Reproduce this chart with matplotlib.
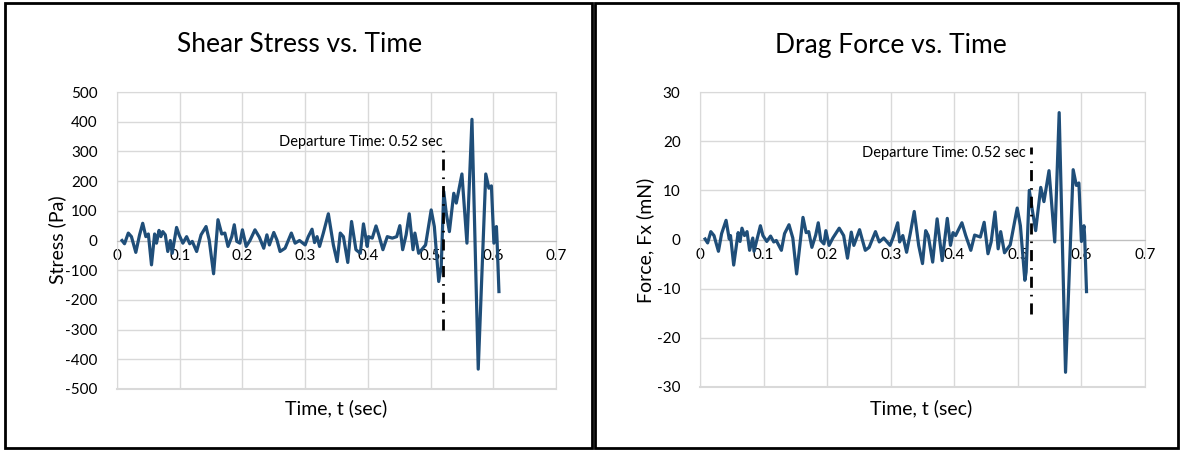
import numpy as np
import matplotlib
matplotlib.use("Agg")
import matplotlib.pyplot as plt
from matplotlib.patches import Rectangle

plt.rcParams['font.family'] = ['Lato', 'DejaVu Sans']
plt.rcParams['axes.unicode_minus'] = False

# shear stress readings (Pa)
t_stress = [0.008, 0.012, 0.018, 0.023, 0.030, 0.036, 0.041, 0.046, 0.050, 0.055,
            0.060, 0.063, 0.067, 0.070, 0.073, 0.077, 0.081, 0.085, 0.088, 0.095,
            0.099, 0.105, 0.111, 0.116, 0.120, 0.127, 0.134, 0.142, 0.147, 0.154,
            0.161, 0.167, 0.172, 0.177, 0.183, 0.187, 0.191, 0.196, 0.200, 0.206,
            0.212, 0.220, 0.227, 0.234, 0.239, 0.243, 0.250, 0.255, 0.260, 0.268,
            0.278, 0.284, 0.291, 0.300, 0.305, 0.311, 0.315, 0.319, 0.323, 0.329,
            0.337, 0.345, 0.351, 0.356, 0.361, 0.368, 0.374, 0.381, 0.388, 0.393,
            0.399, 0.401, 0.407, 0.413, 0.417, 0.424, 0.431, 0.439, 0.446, 0.451,
            0.4555, 0.461, 0.466, 0.472, 0.475, 0.481, 0.492, 0.501, 0.506, 0.513,
            0.517, 0.521, 0.525, 0.530, 0.537, 0.541, 0.550, 0.558, 0.566, 0.576,
            0.588, 0.593, 0.597, 0.601, 0.605, 0.606, 0.609]
stress = [0, -11, 25, 13, -40, 19, 58, 13, 22, -82,
          22, -9, 34, 13, 30, 19, -37, 0, -43, 44,
          19, -9, 13, -11, -3, -37, 19, 47, 2, -112,
          70, 22, 25, -20, 13, 53, -3, -9, 36, -20,
          0, 36, 11, -26, 19, -15, 27, 2, -37, -26,
          25, -9, 0, -15, 13, 38, -7, 13, -20, 25,
          90, -15, -71, 25, 13, -74, 64, -31, -43, 56,
          -20, 13, 8, 49, 22, -31, 13, 8, 13, 50,
          -31, 19, 90, -31, 25, -43, -15, 103, 47, -138,
          -88, 165, 92, 30, 159, 126, 224, -9, 408, -433,
          224, 176, 184, -9, 47, 2, -172]

# drag force readings (mN)
t_force = [0.008, 0.012, 0.017, 0.022, 0.029, 0.034, 0.041, 0.046, 0.048, 0.053,
           0.060, 0.063, 0.066, 0.070, 0.074, 0.078, 0.083, 0.085, 0.095, 0.099,
           0.105, 0.111, 0.116, 0.120, 0.128, 0.133, 0.140, 0.146, 0.152, 0.162,
           0.167, 0.171, 0.176, 0.182, 0.186, 0.190, 0.195, 0.198, 0.203, 0.209,
           0.219, 0.226, 0.232, 0.238, 0.242, 0.251, 0.255, 0.260, 0.266, 0.276,
           0.282, 0.289, 0.299, 0.304, 0.311, 0.314, 0.319, 0.325, 0.331, 0.337,
           0.344, 0.350, 0.355, 0.359, 0.366, 0.373, 0.381, 0.389, 0.394, 0.398,
           0.402, 0.412, 0.418, 0.426, 0.432, 0.441, 0.447, 0.453, 0.458, 0.464,
           0.469, 0.473, 0.479, 0.488, 0.499, 0.504, 0.511, 0.513, 0.518, 0.522,
           0.528, 0.536, 0.541, 0.549, 0.558, 0.565, 0.575, 0.587, 0.592, 0.596,
           0.600, 0.604, 0.605, 0.608]
force = [0.1, -0.7, 1.6, 0.8, -2.4, 1.2, 3.9, 0.1, 0.8, -5.2,
         1.4, -0.4, 2.3, 0.8, 1.6, -2.2, 0.3, -2.4, 2.8, 0.8,
         -0.4, 0.7, -0.5, -0.2, -2.2, 1.2, 3.0, 0.3, -7.0, 4.5,
         1.4, 1.6, -1.6, 0.9, 3.4, -0.2, -0.9, 1.8, -1.2, 0.3,
         2.3, 0.8, -3.8, 1.5, -1.2, 2.0, 0.1, -2.2, -1.6, 1.6,
         -0.5, 0.3, -1.2, 0.5, 3.4, -0.5, 0.8, -2.6, 1.4, 5.7,
         -1.2, -4.9, 1.8, 0.8, -4.6, 4.2, -4.3, 4.3, -1.2, 1.4,
         0.8, 3.4, 0.8, -2.2, 0.9, 0.5, 3.5, -2.9, -0.5, 5.6,
         -1.9, 1.6, -2.7, -1.1, 6.4, 2.8, -8.3, -6.6, 10.0, 6.6,
         1.8, 10.6, 7.7, 14.0, -0.5, 25.8, -27.0, 14.2, 11.0, 11.5,
         -0.4, 2.8, 0.8, -10.6]

departure = 0.52
x_ticks = [0, 0.1, 0.2, 0.3, 0.4, 0.5, 0.6, 0.7]
x_labels = ['0', '0.1', '0.2', '0.3', '0.4', '0.5', '0.6', '0.7']

line_col = '#1f4e79'
grid_col = '#d9d9d9'

fig = plt.figure(figsize=(11.8, 4.51), dpi=100)

# panel frames
fig.patches.append(Rectangle((5 / 1180, 3 / 451), 587 / 1180, 445 / 451, transform=fig.transFigure,
                             fill=False, edgecolor='black', lw=2))
fig.patches.append(Rectangle((595 / 1180, 3 / 451), 583 / 1180, 445 / 451, transform=fig.transFigure,
                             fill=False, edgecolor='black', lw=2))


def make_panel(rect, t, y, ylim, ystep, title, ylabel, dash_top, dash_bot, txt_x, txt_y, title_x, ylab_x, xlab_x):
    ax = fig.add_axes(rect)
    ax.plot(t, y, color=line_col, lw=2.3, solid_joinstyle='round', zorder=3)
    ax.plot([departure, departure], [dash_bot, dash_top], color='black', lw=2,
            linestyle=(0, (4, 2.5, 0.6, 2.5)), zorder=4)
    ax.text(txt_x, txt_y, 'Departure Time: 0.52 sec', ha='right', va='center', fontsize=10.5, zorder=5)
    ax.set_xlim(0, 0.7)
    ax.set_ylim(-ylim, ylim)
    ax.set_xticks(x_ticks)
    ax.set_xticklabels(x_labels)
    ax.set_yticks(np.arange(-ylim, ylim + ystep / 2, ystep))
    ax.grid(True, color=grid_col, lw=1)
    ax.set_axisbelow(True)
    for s in ['top', 'right', 'left']:
        ax.spines[s].set_color(grid_col)
    ax.spines['bottom'].set_position(('data', 0))
    ax.spines['bottom'].set_color('#bfbfbf')
    ax.tick_params(length=0, labelsize=11, colors='black')
    ax.tick_params(axis='x', pad=6)
    ax.tick_params(axis='y', pad=14)
    # lower frame edge (bottom spine moved to zero)
    ax.axhline(-ylim, color=grid_col, lw=1.5, clip_on=False)
    fig.text(title_x, 1 - 45 / 451, title, ha='center', va='center', fontsize=19)
    fig.text(ylab_x, 1 - 240 / 451, ylabel, ha='center', va='center', rotation=90, fontsize=14)
    fig.text(xlab_x, 1 - 408 / 451, 'Time, t (sec)', ha='center', va='center', fontsize=14)
    return ax


make_panel([117 / 1180, 62 / 451, 439 / 1180, 297 / 451], t_stress, stress, 500, 100,
           'Shear Stress vs. Time', 'Stress (Pa)', 322, -301, 0.519, 330,
           300 / 1180, 57 / 1180, 336 / 1180)
make_panel([700 / 1180, 64 / 451, 445 / 1180, 295 / 451], t_force, force, 30, 10,
           'Drag Force vs. Time', 'Force, Fx (mN)', 18.8, -15.1, 0.513, 17.6,
           891 / 1180, 645 / 1180, 921 / 1180)

fig.savefig('out.png', dpi=100)
